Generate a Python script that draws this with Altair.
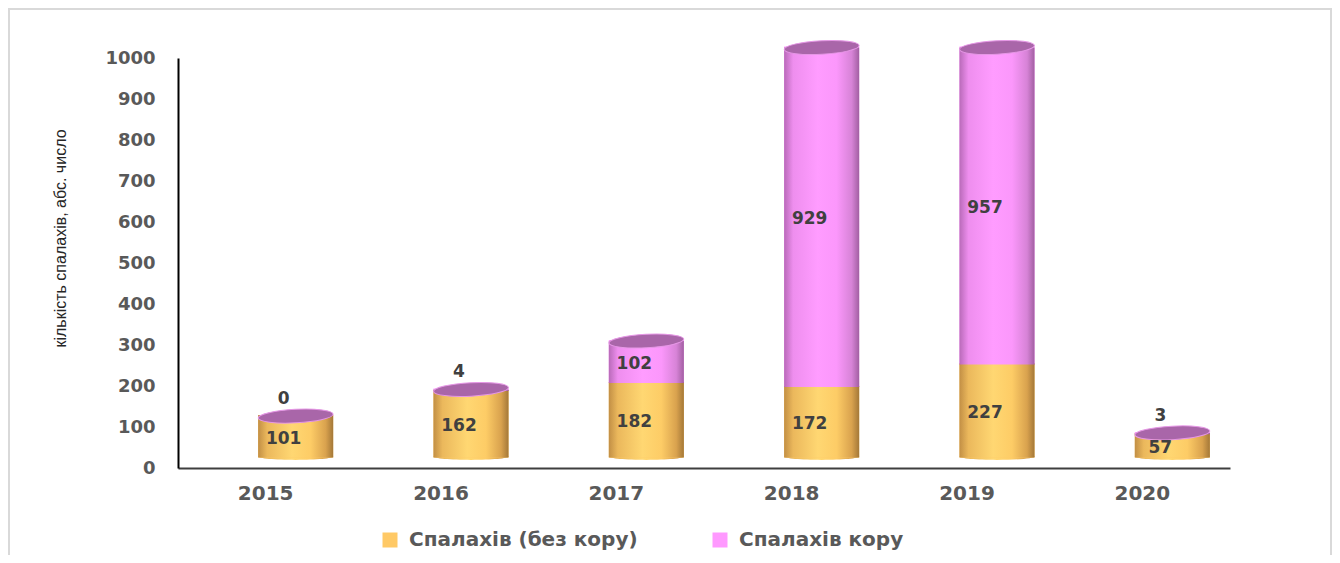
import altair as alt
import pandas as pd

# ---- data ----
years = ["2015", "2016", "2017", "2018", "2019", "2020"]
no_measles = [101, 162, 182, 172, 227, 57]   # Спалахів (без кору)
measles = [0, 4, 102, 929, 957, 3]           # Спалахів кору
series_names = ["Спалахів (без кору)", "Спалахів кору"]
series_colors = ["#FFC966", "#FF99FF"]
y_ticks = [0, 100, 200, 300, 400, 500, 600, 700, 800, 900, 1000]
y_title = "кількість спалахів, абс. число"
Y_MAX = 1000

rows = []
for yr, a, b in zip(years, no_measles, measles):
    rows.append(dict(year=yr, series=series_names[0], value=a, start=0, end=a))
    rows.append(dict(year=yr, series=series_names[1], value=b, start=a, end=a + b))
df = pd.DataFrame(rows)
df["mid"] = (df["start"] + df["end"].clip(upper=Y_MAX)) / 2
df["inside"] = df["value"] >= 20
df["label"] = df["value"].astype(str)

# ---- styling ----
FONT = "DejaVu Sans"
DX, DY = 30, -10.5          # 3-D depth shift of the cylinders
BAR_W = 75
k = 0.5523


def ellipse_path(r):
    return (
        f"M-1,0 C-1,{-k*r} {-k},{-r} 0,{-r} "
        f"C{k},{-r} 1,{-k*r} 1,0 "
        f"C1,{k*r} {k},{r} 0,{r} "
        f"C{-k},{r} -1,{k*r} -1,0 Z"
    )


TOP_ELLIPSE = ellipse_path(0.18)
BOTTOM_ELLIPSE = ellipse_path(0.09)


def grad(stops):
    return alt.LinearGradient(
        gradient="linear", x1=0, x2=1, y1=0, y2=0,
        stops=[alt.GradientStop(offset=o, color=c) for o, c in stops],
    )


yellow_grad = grad([(0, "#C28F45"), (0.12, "#EBB85C"), (0.45, "#FFD772"),
                    (0.7, "#FDCC66"), (0.9, "#D9A24E"), (1, "#A47838")])
pink_grad = grad([(0, "#B96AB9"), (0.12, "#EE8EEE"), (0.45, "#FF9CFF"),
                  (0.7, "#FB97FB"), (0.9, "#D783D7"), (1, "#A25FA2")])

x_scale = alt.Scale(domain=years, paddingInner=0.572, paddingOuter=0.286)
y_scale = alt.Scale(domain=[0, Y_MAX], clamp=True, nice=False, zero=True)

x_axis = alt.Axis(ticks=False, grid=False, domain=True, domainColor="#3F3F3F",
                  domainWidth=2, labelFont=FONT, labelFontWeight="bold",
                  labelFontSize=20, labelColor="#595959", labelPadding=15,
                  labelAngle=0)
y_axis = alt.Axis(values=y_ticks, format="d", ticks=False, grid=False, domain=True,
                  domainColor="#000000", domainWidth=2, labelFont=FONT,
                  labelFontWeight="bold", labelFontSize=18, labelColor="#595959",
                  labelPadding=23, labelFlush=False, labelOverlap=False,
                  titleFont="Liberation Sans", titleFontSize=16,
                  titleFontWeight="normal", titleColor="#262626",
                  titleX=-118, titleY=180, titleAngle=270, titleAlign="center",
                  titleBaseline="middle")


def X():
    return alt.X("year:N", scale=x_scale, axis=x_axis, title=None)


def Y(field):
    return alt.Y(f"{field}:Q", scale=y_scale, axis=y_axis, title=y_title)


base = alt.Chart(df)

frame = alt.Chart(alt.Data(values=[{"a": 1}])).mark_rect(
    fill="transparent", stroke="#D9D9D9", strokeWidth=2
).encode(x=alt.value(-169), x2=alt.value(1153), y=alt.value(-49), y2=alt.value(560))

bottom_ell = base.transform_filter(alt.datum.series == series_names[0]).mark_point(
    shape=BOTTOM_ELLIPSE, size=BAR_W * BAR_W, filled=True, fill=yellow_grad, opacity=1,
    strokeWidth=0, xOffset=DX, yOffset=DY - 1
).encode(x=X(), y=Y("start"))

legend_bars = base.mark_bar(xOffset=DX, x2Offset=DX, yOffset=DY, y2Offset=DY - 1).encode(
    x=X(), y=Y("start"), y2="end:Q",
    color=alt.Color("series:N", scale=alt.Scale(domain=series_names, range=series_colors),
                    legend=alt.Legend(title=None, orient="none", direction="horizontal",
                                      legendX=202, legendY=472, symbolType="square",
                                      symbolSize=225, symbolStrokeWidth=0,
                                      labelFont=FONT, labelFontWeight="bold",
                                      labelFontSize=20, labelColor="#595959",
                                      labelOffset=9, columnPadding=72, labelLimit=0)),
)

yellow_bars = base.transform_filter(alt.datum.series == series_names[0]).mark_bar(
    fill=yellow_grad, xOffset=DX, x2Offset=DX, yOffset=DY, y2Offset=DY - 1
).encode(x=X(), y=Y("start"), y2="end:Q")

pink_bars = base.transform_filter(alt.datum.series == series_names[1]).mark_bar(
    fill=pink_grad, xOffset=DX, x2Offset=DX, yOffset=DY, y2Offset=DY
).encode(x=X(), y=Y("start"), y2="end:Q")

top_caps = base.transform_filter(alt.datum.series == series_names[1]).mark_point(
    shape=TOP_ELLIPSE, size=BAR_W * BAR_W, filled=True, fill="#A966A9", opacity=1,
    stroke="#E597E5", strokeWidth=1, angle=357, xOffset=DX, yOffset=DY
).encode(x=X(), y=Y("end"))

labels_in = base.transform_filter(alt.datum.inside).mark_text(
    font=FONT, fontWeight="bold", fontSize=17, color="#404040",
    xOffset=18, yOffset=DY + 2
).encode(x=X(), y=Y("mid"), text="label:N")

labels_out = base.transform_filter(~alt.datum.inside).mark_text(
    font=FONT, fontWeight="bold", fontSize=17, color="#404040",
    xOffset=18, yOffset=DY - 17
).encode(x=X(), y=Y("end"), text="label:N")

chart = alt.layer(
    frame, bottom_ell, legend_bars, yellow_bars, pink_bars, top_caps, labels_in, labels_out
).properties(
    width=1052, height=410,
    autosize=alt.AutoSizeParams(type="none"),
    padding={"left": 170, "top": 50, "right": 102, "bottom": 87},
    background="white",
).configure_view(stroke=None)

chart.save("out.html", embed_options={"renderer": "svg", "actions": False})
